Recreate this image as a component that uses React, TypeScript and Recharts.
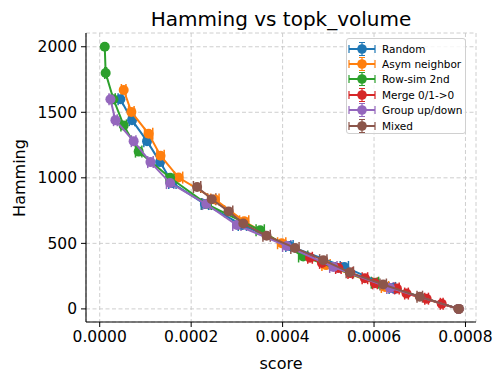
import { ScatterChart, Scatter, XAxis, YAxis, CartesianGrid, ErrorBar } from 'recharts';

const SCORE_TICKS = [0, 0.0002, 0.0004, 0.0006, 0.0008];
const HAMMING_TICKS = [0, 500, 1000, 1500, 2000];

const RANDOM_HAMMING = [1600, 1440, 1280, 1120, 960, 800, 640, 480, 320, 160, 0];
const RANDOM_SCORE = [0.0000452, 0.0000707, 0.0001035, 0.000132, 0.000159, 0.00023, 0.000312, 0.000415, 0.000535, 0.00064, 0.000785];
const RANDOM_ERR = [0.000005, 0.000006, 0.000007, 0.000007, 0.000008, 0.000008, 0.000009, 0.000008, 0.000009, 0.000007, 0];

const ASYM_HAMMING = [1670, 1503, 1336, 1169, 1002, 835, 668, 501, 334, 167, 0];
const ASYM_SCORE = [0.0000524, 0.0000692, 0.000107, 0.000133, 0.0001725, 0.000252, 0.000316, 0.000398, 0.000495, 0.000624, 0.000785];
const ASYM_ERR = [0.000005, 0.000006, 0.000009, 0.000008, 0.000009, 0.000009, 0.00001, 0.000009, 0.000009, 0.000008, 0];

const ROWSIM_HAMMING = [2000, 1800, 1600, 1400, 1200, 1000, 800, 600, 400, 200, 0];
const ROWSIM_SCORE = [0.000011, 0.000013, 0.00003, 0.0000524, 0.0000852, 0.000154, 0.000234, 0.000351, 0.000445, 0.000602, 0.000785];
const ROWSIM_ERR = [0, 0.000002, 0.000004, 0.000006, 0.000007, 0.000009, 0.00001, 0.000009, 0.00001, 0.000008, 0];

const MERGE_HAMMING = [390, 351, 312, 273, 234, 195, 156, 117, 78, 39, 0];
const MERGE_SCORE = [0.00046, 0.000486, 0.000522, 0.000548, 0.00058, 0.000602, 0.00065, 0.000671, 0.000715, 0.000748, 0.000785];
const MERGE_ERR = [0.000005, 0.000005, 0.000006, 0.000005, 0.000006, 0.000005, 0.000005, 0.000004, 0.000004, 0.000003, 0];

const GROUP_HAMMING = [1600, 1440, 1280, 1120, 960, 800, 640, 480, 320, 160, 0];
const GROUP_SCORE = [0.0000234, 0.0000343, 0.0000742, 0.000111, 0.000154, 0.000233, 0.0003, 0.000409, 0.000511, 0.000635, 0.000785];
const GROUP_ERR = [0.000003, 0.000004, 0.000005, 0.000006, 0.000008, 0.000008, 0.000009, 0.000009, 0.000008, 0.000007, 0];

const MIXED_HAMMING = [930, 837, 744, 651, 558, 465, 372, 279, 186, 93, 0];
const MIXED_SCORE = [0.000213, 0.000245, 0.000282, 0.000314, 0.000365, 0.000427, 0.000489, 0.000547, 0.00062, 0.0007, 0.000785];
const MIXED_ERR = [0.000008, 0.000009, 0.000009, 0.000009, 0.000008, 0.000009, 0.000008, 0.000008, 0.000007, 0.000006, 0];

const SERIES = [
  { name: 'Random', color: '#1f77b4', hamming: RANDOM_HAMMING, score: RANDOM_SCORE, err: RANDOM_ERR },
  { name: 'Asym neighbor', color: '#ff7f0e', hamming: ASYM_HAMMING, score: ASYM_SCORE, err: ASYM_ERR },
  { name: 'Row-sim 2nd', color: '#2ca02c', hamming: ROWSIM_HAMMING, score: ROWSIM_SCORE, err: ROWSIM_ERR },
  { name: 'Merge 0/1->0', color: '#d62728', hamming: MERGE_HAMMING, score: MERGE_SCORE, err: MERGE_ERR },
  { name: 'Group up/down', color: '#9467bd', hamming: GROUP_HAMMING, score: GROUP_SCORE, err: GROUP_ERR },
  { name: 'Mixed', color: '#8c564b', hamming: MIXED_HAMMING, score: MIXED_SCORE, err: MIXED_ERR },
];

const FONT = '"DejaVu Sans", sans-serif';
const tickStyle = { fill: '#000', fontSize: 15.5, fontFamily: FONT };

function Handle({ color }: { color: string }) {
  return (
    <svg width={28} height={14} style={{ display: 'block' }}>
      <line x1={1} y1={7} x2={27} y2={7} stroke={color} strokeWidth={2} />
      <line x1={1} y1={3} x2={1} y2={11} stroke={color} strokeWidth={1.2} />
      <line x1={27} y1={3} x2={27} y2={11} stroke={color} strokeWidth={1.2} />
      <line x1={14} y1={0.5} x2={14} y2={13.5} stroke={color} strokeWidth={1.2} />
      <line x1={11} y1={0.5} x2={17} y2={0.5} stroke={color} strokeWidth={1} />
      <line x1={11} y1={13.5} x2={17} y2={13.5} stroke={color} strokeWidth={1} />
      <circle cx={14} cy={7} r={4.8} fill={color} />
    </svg>
  );
}

export default function App() {
  return (
    <div style={{ position: 'fixed', left: 0, top: 0, width: 504, height: 383, background: '#fff', fontFamily: FONT }}>
      <ScatterChart width={504} height={383} margin={{ top: 33, right: 28, bottom: 0, left: 0 }}>
        <CartesianGrid stroke="#c8c8c8" strokeDasharray="4 2.5" strokeWidth={0.9} />
        <XAxis
          type="number"
          dataKey="x"
          domain={[-0.00003, 0.000823]}
          ticks={SCORE_TICKS}
          tickFormatter={(v: number) => v.toFixed(4)}
          allowDataOverflow
          height={61}
          tickSize={5}
          tickMargin={4}
          tick={tickStyle}
          tickLine={{ stroke: '#000' }}
          axisLine={{ stroke: '#000', strokeWidth: 1.1 }}
        />
        <XAxis xAxisId="top" type="number" orientation="top" domain={[-0.00003, 0.000823]} height={0} tick={false} tickLine={false} axisLine={{ stroke: '#000', strokeWidth: 1.1 }} />
        <YAxis
          type="number"
          dataKey="y"
          domain={[-100, 2105]}
          ticks={HAMMING_TICKS}
          allowDataOverflow
          width={86}
          tickSize={5}
          tickMargin={4}
          tick={tickStyle}
          tickLine={{ stroke: '#000' }}
          axisLine={{ stroke: '#000', strokeWidth: 1.1 }}
        />
        <YAxis yAxisId="right" type="number" orientation="right" domain={[-100, 2105]} width={0} tick={false} tickLine={false} axisLine={{ stroke: '#000', strokeWidth: 1.1 }} />
        {SERIES.map((s) => (
          <Scatter
            key={s.name}
            name={s.name}
            data={s.score.map((x, i) => ({ x, y: s.hamming[i], ex: s.err[i] }))}
            fill={s.color}
            line={{ stroke: s.color, strokeWidth: 2 }}
            lineType="joint"
            isAnimationActive={false}
            shape={(p: any) => <circle cx={p.cx} cy={p.cy} r={5} fill={s.color} />}
          >
            <ErrorBar dataKey="ex" direction="x" width={6} stroke={s.color} strokeWidth={1.5} isAnimationActive={false} />
          </Scatter>
        ))}
      </ScatterChart>

      <div style={{ position: 'absolute', left: 86, width: 390, top: 9, fontSize: 20, lineHeight: '20px', textAlign: 'center', color: '#000' }}>
        Hamming vs topk_volume
      </div>
      <div style={{ position: 'absolute', left: 86, width: 390, top: 356, fontSize: 16, lineHeight: '16px', textAlign: 'center', color: '#000' }}>
        score
      </div>
      <div style={{ position: 'absolute', left: 20 - 60, top: 177.5 - 8, width: 120, fontSize: 16, lineHeight: '16px', textAlign: 'center', color: '#000', transform: 'rotate(-90deg)' }}>
        Hamming
      </div>

      <div style={{
        position: 'absolute', left: 346, top: 38, width: 120, height: 96, boxSizing: 'border-box',
        background: 'rgba(255,255,255,0.8)', border: '1px solid #d0d0d0', borderRadius: 3, padding: '2px 0 0 1px',
      }}>
        {SERIES.map((s) => (
          <div key={s.name} style={{ display: 'flex', alignItems: 'center', height: 15.4, fontSize: 10.5, color: '#000' }}>
            <Handle color={s.color} />
            <span style={{ marginLeft: 6, whiteSpace: 'nowrap' }}>{s.name}</span>
          </div>
        ))}
      </div>
    </div>
  );
}
